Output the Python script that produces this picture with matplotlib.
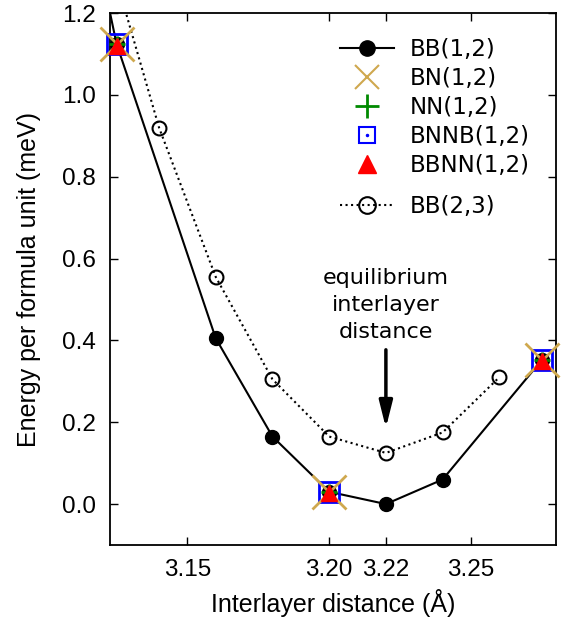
import numpy as np
import matplotlib
matplotlib.use('Agg')
import matplotlib.pyplot as plt
from matplotlib.lines import Line2D
from matplotlib.legend_handler import HandlerTuple

# dati
x_bb12 = [3.12, 3.125, 3.16, 3.18, 3.20, 3.22, 3.24, 3.275]
e_bb12 = [1.29, 1.125, 0.405, 0.165, 0.03, 0.0, 0.06, 0.352]

x_bb23 = [3.12, 3.14, 3.16, 3.18, 3.20, 3.22, 3.24, 3.26]
e_bb23 = [1.40, 0.92, 0.555, 0.305, 0.165, 0.125, 0.175, 0.31]

x_stack = [3.125, 3.20, 3.275]
e_bn = [1.125, 0.03, 0.352]
e_nn = [1.125, 0.03, 0.352]
e_bnnb = [1.125, 0.03, 0.352]
e_bbnn = [1.12, 0.027, 0.35]

xticks = [3.15, 3.20, 3.22, 3.25]
xtick_labels = ['3.15', '3.20', '3.22', '3.25']
yticks = [0.0, 0.2, 0.4, 0.6, 0.8, 1.0, 1.2]

tan = '#cfa84e'
green = '#008a00'
blue = '#0000ff'
red = '#ff0000'

fig = plt.figure(figsize=(5.69, 6.23), dpi=100)
ax = fig.add_axes([0.1933, 0.1252, 0.7839, 0.8539])

ax.plot(x_bb12, e_bb12, '-', color='k', lw=1.5, marker='o', ms=10, zorder=3)
ax.plot(x_bb23, e_bb23, ':', color='k', lw=1.5, marker='o', ms=10,
        mfc='none', mew=1.5, zorder=3)

ax.plot(x_stack, e_bnnb, ls='none', marker='s', ms=15, mfc='none', mec=blue,
        mew=2, zorder=4, clip_on=False)
ax.plot(x_stack, e_bn, ls='none', marker='x', ms=25, color=tan, mew=2,
        zorder=5, clip_on=False)
ax.plot(x_stack, e_nn, ls='none', marker='+', ms=12, color=green, mew=2,
        zorder=6, clip_on=False)
ax.plot(x_stack, e_bbnn, ls='none', marker='^', ms=12, color=red, mec=red,
        zorder=7, clip_on=False)

ax.set_xlim(3.1227, 3.28)
ax.set_ylim(-0.1, 1.2)
ax.set_xticks(xticks)
ax.set_xticklabels(xtick_labels)
ax.set_yticks(yticks)
ax.set_yticklabels(['%.1f' % v for v in yticks])

ax.tick_params(direction='in', length=6, width=1, top=True, right=True,
               labelsize=17.5, pad=10)
for lab in ax.get_xticklabels() + ax.get_yticklabels():
    lab.set_family('Liberation Sans')
for s in ax.spines.values():
    s.set_linewidth(1.3)

ax.set_xlabel('Interlayer distance (Å)', fontsize=18, family='Liberation Sans',
              labelpad=6)
ax.set_ylabel('Energy per formula unit (meV)', fontsize=18,
              family='Liberation Sans', labelpad=15)

# freccia e testo
ax.annotate('', xy=(3.22, 0.186), xytext=(3.22, 0.377),
            arrowprops=dict(arrowstyle='-|>,head_length=1.6,head_width=0.4',
                            color='k', lw=2.5, shrinkA=0, shrinkB=0))
ax.text(3.22, 0.395, 'equilibrium\ninterlayer\ndistance', ha='center',
        va='bottom', fontsize=16, family='DejaVu Sans', linespacing=1.45)

# legenda
h1 = Line2D([], [], color='k', lw=1.5, marker='o', ms=11)
h2 = Line2D([], [], ls='none', marker='x', color=tan, ms=17, mew=1.5)
h3 = Line2D([], [], ls='none', marker='+', color=green, ms=17, mew=2)
h4a = Line2D([], [], ls='none', marker='s', ms=12, mfc='none', mec=blue, mew=1.5)
h4b = Line2D([], [], ls='none', marker='.', ms=3, color=blue)
h5 = Line2D([], [], ls='none', marker='^', ms=13, color=red)
h6 = Line2D([], [], color='k', lw=1.5, ls=':', marker='o', ms=12, mfc='none',
            mew=1.5)

leg1 = ax.legend([h1, h2, h3, (h4a, h4b), h5],
                 ['BB(1,2)', 'BN(1,2)', 'NN(1,2)', 'BNNB(1,2)', 'BBNN(1,2)'],
                 handler_map={tuple: HandlerTuple(ndivide=1)},
                 loc='upper left', bbox_to_anchor=(0.515, 0.953), frameon=False,
                 prop={'family': 'DejaVu Sans', 'size': 16.5},
                 handlelength=2.35, handletextpad=0.7, labelspacing=0.26,
                 borderpad=0, borderaxespad=0)
ax.add_artist(leg1)
ax.legend([h6], ['BB(2,3)'], loc='upper left', bbox_to_anchor=(0.515, 0.658),
          frameon=False, prop={'family': 'DejaVu Sans', 'size': 16.5},
          handlelength=2.35, handletextpad=0.7, borderpad=0, borderaxespad=0)

plt.savefig('out.png', dpi=100)
plt.close()
